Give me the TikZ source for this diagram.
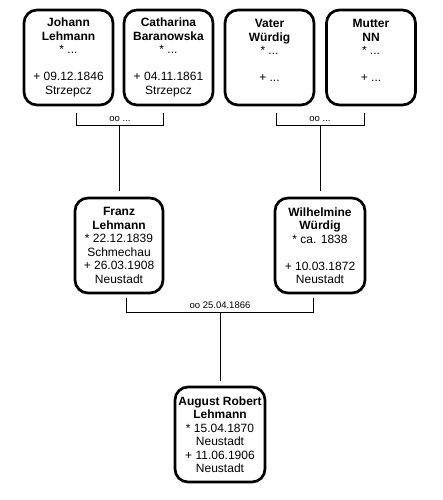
\documentclass[tikz,border=0pt]{standalone}
\usepackage{fontspec}
\setmainfont{Liberation Sans}
\begin{document}
\begin{tikzpicture}[x=1pt,y=-1pt,
  person/.style={draw, line width=2.7pt, rounded corners=13pt, minimum width=89pt, minimum height=95pt,
    align=center, inner sep=0pt, font=\fontsize{12}{13.5}\selectfont},
  conn/.style={line width=0.9pt},
  mlabel/.style={font=\fontsize{9.5}{11}\selectfont, inner sep=0pt}]
\useasboundingbox (0,0) rectangle (443,500);
% grandparents
\node[person] (jl) at (68.5,57.5) {\textbf{Johann}\\\textbf{Lehmann}\\* ...\\\mbox{}\\+ 09.12.1846\\Strzepcz};
\node[person] (cb) at (168.5,57.5) {\textbf{Catharina}\\\textbf{Baranowska}\\* ...\\\mbox{}\\+ 04.11.1861\\Strzepcz};
\node[person] (vw) at (269.5,57.5) {\textbf{Vater}\\\textbf{Würdig}\\* ...\\\mbox{}\\+ ...\\\mbox{}};
\node[person] (mn) at (371,57.5) {\textbf{Mutter}\\\textbf{NN}\\* ...\\\mbox{}\\+ ...\\\mbox{}};
% parents
\node[person, minimum width=88pt] (fl) at (119,245.5) {\textbf{Franz}\\\textbf{Lehmann}\\* 22.12.1839\\Schmechau\\+ 26.03.1908\\Neustadt};
\node[person, minimum width=90pt] (ww) at (320,245.5) {\textbf{Wilhelmine}\\\textbf{Würdig}\\* ca. 1838\\\mbox{}\\+ 10.03.1872\\Neustadt};
% child
\node[person, minimum width=90pt] (ar) at (220,434.5) {\textbf{August Robert}\\\textbf{Lehmann}\\* 15.04.1870\\Neustadt\\+ 11.06.1906\\Neustadt};
% marriage brackets
\coordinate (b1l) at (76,113); \coordinate (b1r) at (163,113); \coordinate (b1m) at (119,125);
\draw[conn] (b1l) -- ++(0,12) -| (b1r);
\node[mlabel] (m1) at (120,118.5) {oo ...};
\draw[conn, shorten >=6pt] (b1m) -- (fl.north);
\coordinate (b2l) at (276,113); \coordinate (b2r) at (364,113); \coordinate (b2m) at (320,125);
\draw[conn] (b2l) -- ++(0,12) -| (b2r);
\node[mlabel] (m2) at (320,118.5) {oo ...};
\draw[conn, shorten >=6pt] (b2m) -- (ww.north);
\coordinate (b3l) at (126,298); \coordinate (b3r) at (313,298); \coordinate (b3m) at (220,312);
\draw[conn] (b3l) -- ++(0,14) -| (b3r);
\node[mlabel] (m3) at (220,305.5) {oo 25.04.1866};
\draw[conn, shorten >=5pt] (b3m) -- (ar.north);
\end{tikzpicture}
\end{document}
